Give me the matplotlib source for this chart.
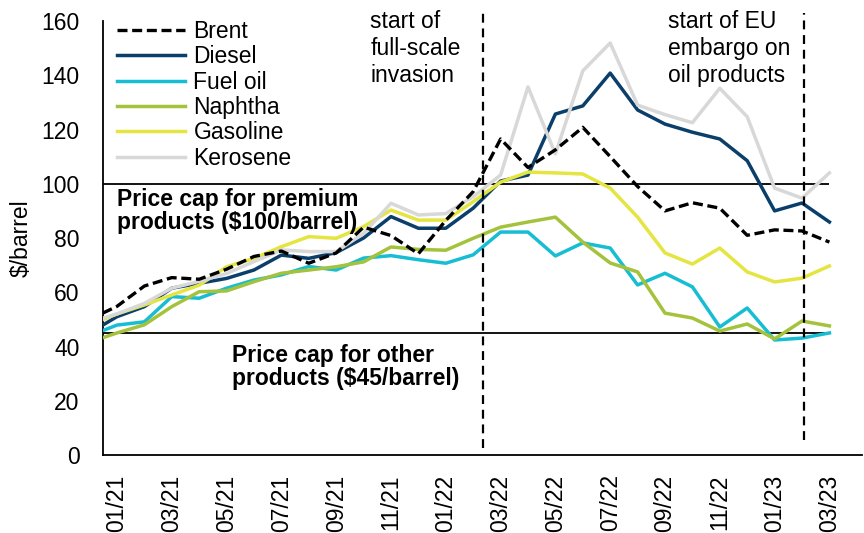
import matplotlib
matplotlib.use("Agg")
import matplotlib.pyplot as plt

plt.rcParams['font.family'] = ['Liberation Sans', 'DejaVu Sans']

months = ["12/20", "01/21", "02/21", "03/21", "04/21", "05/21", "06/21", "07/21", "08/21", "09/21",
          "10/21", "11/21", "12/21", "01/22", "02/22", "03/22", "04/22", "05/22", "06/22",
          "07/22", "08/22", "09/22", "10/22", "11/22", "12/22", "01/23", "02/23", "03/23"]

brent = [50, 54.8, 62.3, 65.4, 64.8, 68.5, 73.2, 75.2, 70.7, 74.5, 84, 80.9, 74.2, 86.5,
         97.1, 116.5, 106, 112.5, 120.8, 110, 99, 90, 93, 91, 81, 83, 82.6, 78.5]
diesel = [45, 51, 54.7, 61.5, 63.3, 65.1, 68.2, 73.7, 72.5, 74.6, 80, 87.9, 83.6, 83.6,
          91, 101, 103.2, 125.7, 128.7, 140.8, 127.2, 122, 119, 116.5, 108.5, 90, 92.9, 85.9]
fuel_oil = [44, 47.9, 49.1, 58.4, 57.8, 61.5, 64.5, 66.4, 69.5, 68.2, 72.6, 73.5, 72, 70.7,
            73.8, 82.2, 82.2, 73.4, 78.2, 76.3, 62.7, 67, 62, 47.2, 54.2, 42.4, 43.1, 45]
naphtha = [41.6, 45, 48, 54.7, 60.2, 60.5, 63.9, 67, 68.2, 69.4, 71.2, 76.7, 75.8, 75.5,
           79.9, 84, 85.9, 87.7, 78.5, 70.8, 67.5, 52.3, 50.5, 45.7, 48.3, 42.8, 49.4, 47.6]
gasoline = [48, 52, 55.3, 59, 62.6, 69.4, 72.5, 76.8, 80.5, 79.9, 84.2, 90.3, 86.6, 86.6,
            93.4, 100.6, 104.3, 104, 103.6, 98.4, 87.7, 74.5, 70.4, 76.3, 67.5, 63.8, 65.2, 69.7]
kerosene = [49, 52, 55.9, 61.5, 64, 66.9, 71.3, 75.6, 75, 75, 81.7, 92.8, 88.5, 89,
            95.2, 103.2, 135.7, 111, 141.6, 151.9, 129, 125.5, 122.5, 135.2, 124.7, 98.4, 94.7, 104]

cap_premium = 100
cap_other = 45
invasion_pos = 13.36   # between 02/22 and 03/22
embargo_pos = 25.07    # early 02/23

FS = 16.5

x = list(range(-1, len(months) - 1))

fig = plt.figure(figsize=(8.64, 5.33), dpi=100)
ax = fig.add_axes([0.1192, 0.1463, 0.8785, 0.8143])

ax.hlines([cap_premium, cap_other], x[0], x[-1], colors='black', linewidth=1.3, zorder=2)

series = [
    ("Diesel", diesel, '#0b3f6b'),
    ("Fuel oil", fuel_oil, '#17bdd3'),
    ("Naphtha", naphtha, '#a4c23b'),
    ("Gasoline", gasoline, '#e4e541'),
    ("Kerosene", kerosene, '#d8d8d8'),
]
handles = {}
for name, vals, col in series:
    (h,) = ax.plot(x, vals, color=col, linewidth=2.5, label=name, zorder=3)
    handles[name] = h
(hb,) = ax.plot(x, brent, color='black', linewidth=2.4, linestyle=(0, (3.0, 1.4)),
                label="Brent", zorder=4)
handles["Brent"] = hb

ax.set_xlim(-0.51, 27.19)
ax.set_ylim(0, 160)
ax.set_yticks(range(0, 161, 20))
ax.set_xticks(x[1::2])
ax.set_xticklabels(months[1::2], rotation=90)
ax.tick_params(axis='both', length=0, labelsize=FS)
ax.tick_params(axis='y', pad=17)
ax.tick_params(axis='x', pad=14)

for s in ['top', 'right']:
    ax.spines[s].set_visible(False)
for s in ['left', 'bottom']:
    ax.spines[s].set_linewidth(1.3)
    ax.spines[s].set_color('black')

ax.set_ylabel("$/barrel", fontsize=FS)
ax.yaxis.set_label_coords(-0.092, 0.5)

for pos, y0, y1 in [(invasion_pos, 2.6, 164.8), (embargo_pos, 5.5, 163)]:
    ax.plot([pos, pos], [y0, y1], color='black', linewidth=1.6, linestyle=(0, (4, 2.6)),
            clip_on=False, zorder=5)

order = ["Brent", "Diesel", "Fuel oil", "Naphtha", "Gasoline", "Kerosene"]
leg = ax.legend([handles[n] for n in order], order, loc='upper left',
                bbox_to_anchor=(0.009, 1.018), frameon=False, fontsize=FS,
                handlelength=3.0, handletextpad=0.35, labelspacing=0.1,
                borderaxespad=0.0, borderpad=0.3)

ax.text(0.0, 98.5, "Price cap for premium\nproducts ($100/barrel)", fontsize=FS,
        fontweight='bold', ha='left', va='top', linespacing=1.0, zorder=6)
ax.text(4.2, 40.8, "Price cap for other\nproducts ($45/barrel)", fontsize=FS,
        fontweight='bold', ha='left', va='top', linespacing=1.0, zorder=6)
ax.text(9.25, 164.2, "start of\nfull-scale\ninvasion", fontsize=FS, ha='left', va='top',
        linespacing=1.22)
ax.text(20.1, 164.2, "start of EU\nembargo on\noil products", fontsize=FS, ha='left',
        va='top', linespacing=1.22)

fig.savefig("out.png", dpi=100)
